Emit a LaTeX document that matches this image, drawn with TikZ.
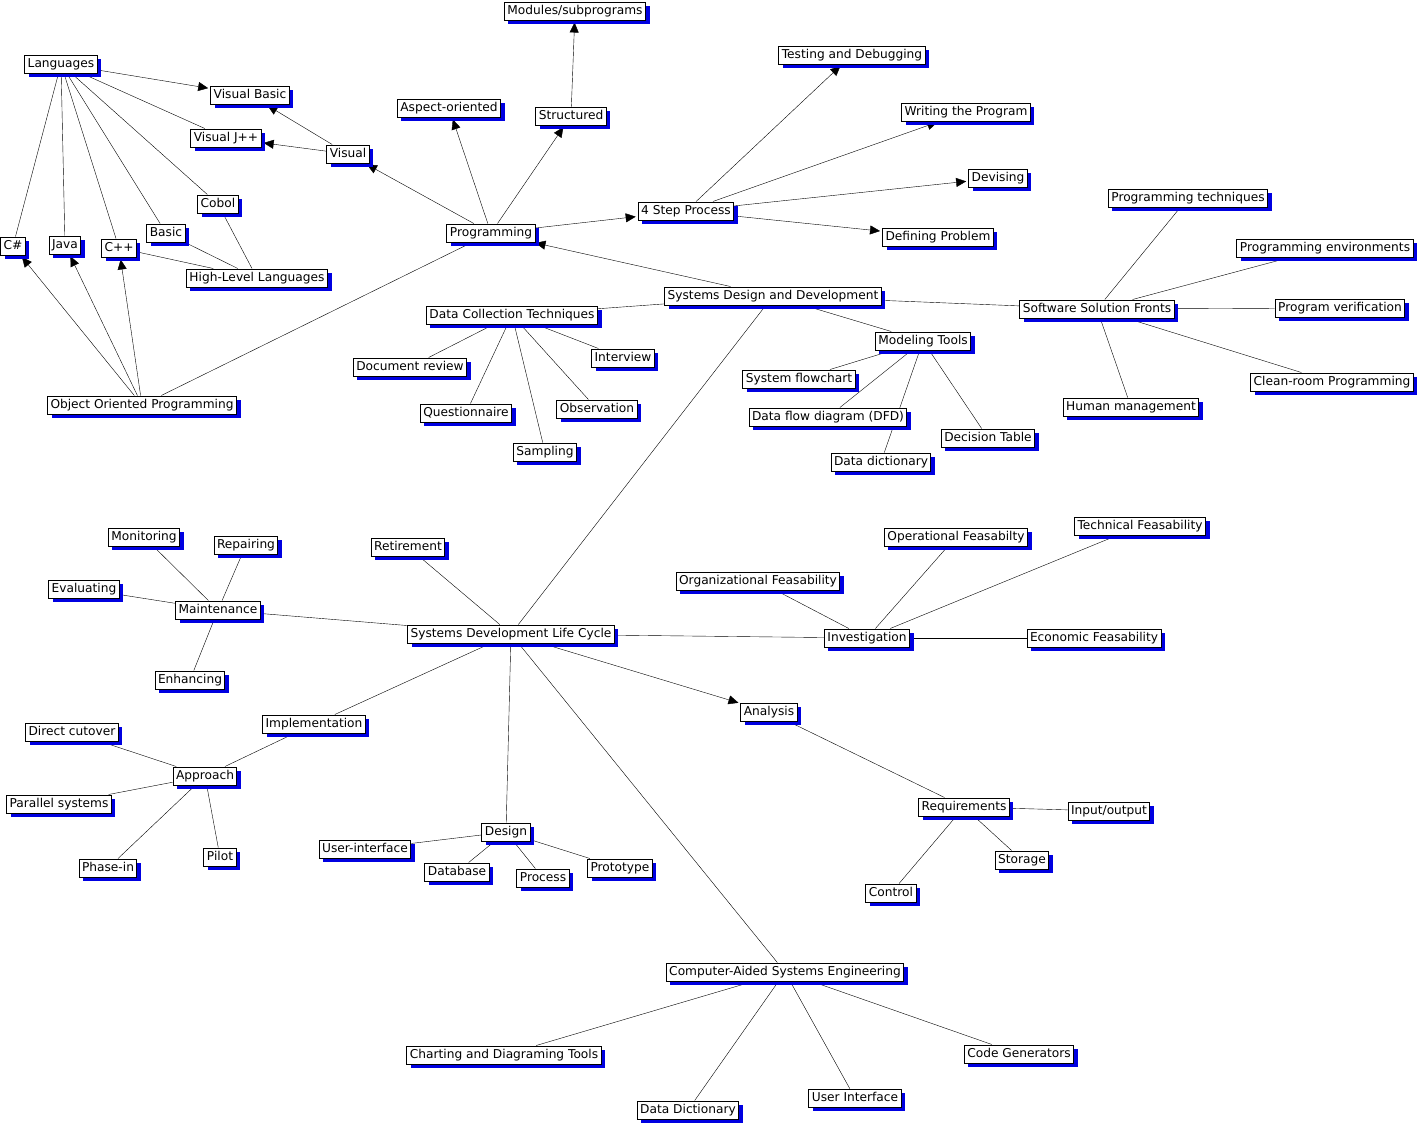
\documentclass[tikz,border=0pt]{standalone}
\usepackage{fontspec}
\setmainfont{DejaVu Sans}
\usetikzlibrary{arrows.meta,shadows}
\definecolor{shadowblue}{RGB}{0,0,225}
\pgfdeclarelayer{background}
\pgfsetlayers{background,main}

\begin{document}
\begin{tikzpicture}[x=1pt,y=-1pt,>={Triangle[length=10pt,width=9pt]},line width=1pt,concept/.style={draw,fill=white,line width=1pt,inner xsep=3pt,inner ysep=1pt,minimum height=18pt,font=\fontsize{12.2}{14}\selectfont,text height=9pt,text depth=2.5pt,drop shadow={fill=shadowblue,opacity=1,shadow xshift=4pt,shadow yshift=-4pt}},link/.style={shorten >=2pt}]
  \useasboundingbox (0,0) rectangle (1420,1125);
  \node[concept] (lang) at (61,64) {Languages};
  \node[concept] (vbasic) at (250,95) {Visual Basic};
  \node[concept] (vjpp) at (226,138) {Visual J++};
  \node[concept] (visual) at (348,154) {Visual};
  \node[concept] (cobol) at (218,204) {Cobol};
  \node[concept] (basic) at (166,233) {Basic};
  \node[concept] (csharp) at (13,246) {C\#};
  \node[concept] (java) at (65,245) {Java};
  \node[concept] (cpp) at (119,248) {C++};
  \node[concept] (highlevel) at (257,278) {High-Level Languages};
  \node[concept] (oop) at (142,405) {Object Oriented Programming};
  \node[concept] (modules) at (575,11) {Modules/subprograms};
  \node[concept] (aspect) at (449,108) {Aspect-oriented};
  \node[concept] (structured) at (571,116) {Structured};
  \node[concept] (prog) at (491,233) {Programming};
  \node[concept] (fourstep) at (686,211) {4 Step Process};
  \node[concept] (testing) at (852,55) {Testing and Debugging};
  \node[concept] (writing) at (966,112) {Writing the Program};
  \node[concept] (devising) at (998,178) {Devising};
  \node[concept] (defining) at (938,237) {Defining Problem};
  \node[concept] (sdd) at (773,296) {Systems Design and Development};
  \node[concept] (datacoll) at (512,315) {Data Collection Techniques};
  \node[concept] (docreview) at (410,367) {Document review};
  \node[concept] (interview) at (623,358) {Interview};
  \node[concept] (questionnaire) at (466,413) {Questionnaire};
  \node[concept] (observation) at (597,409) {Observation};
  \node[concept] (sampling) at (545,452) {Sampling};
  \node[concept] (modeling) at (923,341) {Modeling Tools};
  \node[concept] (sysflow) at (799,379) {System flowchart};
  \node[concept] (dfd) at (828,417) {Data flow diagram (DFD)};
  \node[concept] (dectable) at (988,438) {Decision Table};
  \node[concept] (datadict) at (881,462) {Data dictionary};
  \node[concept] (ssf) at (1097,309) {Software Solution Fronts};
  \node[concept] (progtech) at (1188,198) {Programming techniques};
  \node[concept] (progenv) at (1325,248) {Programming environments};
  \node[concept] (progver) at (1340,308) {Program verification};
  \node[concept] (cleanroom) at (1332,382) {Clean-room Programming};
  \node[concept] (humanman) at (1131,407) {Human management};
  \node[concept] (sdlc) at (511,634) {Systems Development Life Cycle};
  \node[concept] (retirement) at (408,547) {Retirement};
  \node[concept] (maint) at (218,610) {Maintenance};
  \node[concept] (monitoring) at (144,537) {Monitoring};
  \node[concept] (repairing) at (246,545) {Repairing};
  \node[concept] (evaluating) at (84,589) {Evaluating};
  \node[concept] (enhancing) at (190,680) {Enhancing};
  \node[concept] (impl) at (314,724) {Implementation};
  \node[concept] (approach) at (205,776) {Approach};
  \node[concept] (cutover) at (72,732) {Direct cutover};
  \node[concept] (parallel) at (59,804) {Parallel systems};
  \node[concept] (phasein) at (108,868) {Phase-in};
  \node[concept] (pilot) at (220,857) {Pilot};
  \node[concept] (design) at (506,832) {Design};
  \node[concept] (uiface) at (365,849) {User-interface};
  \node[concept] (database) at (457,872) {Database};
  \node[concept] (process) at (543,878) {Process};
  \node[concept] (prototype) at (620,868) {Prototype};
  \node[concept] (invest) at (867,638) {Investigation};
  \node[concept] (orgfeas) at (758,581) {Organizational Feasability};
  \node[concept] (opfeas) at (956,537) {Operational Feasabilty};
  \node[concept] (techfeas) at (1140,526) {Technical Feasability};
  \node[concept] (econfeas) at (1094,638) {Economic Feasability};
  \node[concept] (analysis) at (769,712) {Analysis};
  \node[concept] (req) at (964,807) {Requirements};
  \node[concept] (inout) at (1109,811) {Input/output};
  \node[concept] (storage) at (1022,860) {Storage};
  \node[concept] (control) at (891,893) {Control};
  \node[concept] (case) at (785,972) {Computer-Aided Systems Engineering};
  \node[concept] (charting) at (504,1055) {Charting and Diagraming Tools};
  \node[concept] (datadictb) at (688,1110) {Data Dictionary};
  \node[concept] (userif) at (855,1098) {User Interface};
  \node[concept] (codegen) at (1019,1054) {Code Generators};
  \begin{pgfonlayer}{background}
    \draw[->,link] (lang) -- (vbasic);
    \draw (lang) -- (vjpp);
    \draw (lang) -- (cobol);
    \draw (lang) -- (basic);
    \draw (lang) -- (cpp);
    \draw (lang) -- (java);
    \draw (lang) -- (csharp);
    \draw[->,link] (visual) -- (vbasic);
    \draw[->,link] (visual) -- (vjpp);
    \draw (cobol) -- (highlevel);
    \draw (basic) -- (highlevel);
    \draw (cpp) -- (highlevel);
    \draw[->,link] (oop) -- (csharp);
    \draw[->,link] (oop) -- (java);
    \draw[->,link] (oop) -- (cpp);
    \draw (oop) -- (prog);
    \draw[->,link] (prog) -- (visual);
    \draw[->,link] (prog) -- (aspect);
    \draw[->,link] (prog) -- (structured);
    \draw[->,link] (structured) -- (modules);
    \draw[->,link] (prog) -- (fourstep);
    \draw[->,link] (fourstep) -- (testing);
    \draw[->,link] (fourstep) -- (writing);
    \draw[->,link] (fourstep) -- (devising);
    \draw[->,link] (fourstep) -- (defining);
    \draw[->,link] (sdd) -- (prog);
    \draw (sdd) -- (datacoll);
    \draw (datacoll) -- (docreview);
    \draw (datacoll) -- (questionnaire);
    \draw (datacoll) -- (sampling);
    \draw (datacoll) -- (observation);
    \draw (datacoll) -- (interview);
    \draw (sdd) -- (modeling);
    \draw (modeling) -- (sysflow);
    \draw (modeling) -- (dfd);
    \draw (modeling) -- (datadict);
    \draw (modeling) -- (dectable);
    \draw (sdd) -- (ssf);
    \draw (ssf) -- (progtech);
    \draw (ssf) -- (progenv);
    \draw (ssf) -- (progver);
    \draw (ssf) -- (cleanroom);
    \draw (ssf) -- (humanman);
    \draw (sdd) -- (sdlc);
    \draw (sdlc) -- (retirement);
    \draw (sdlc) -- (maint);
    \draw (maint) -- (monitoring);
    \draw (maint) -- (repairing);
    \draw (maint) -- (evaluating);
    \draw (maint) -- (enhancing);
    \draw (sdlc) -- (impl);
    \draw (impl) -- (approach);
    \draw (approach) -- (cutover);
    \draw (approach) -- (parallel);
    \draw (approach) -- (phasein);
    \draw (approach) -- (pilot);
    \draw (sdlc) -- (design);
    \draw (design) -- (uiface);
    \draw (design) -- (database);
    \draw (design) -- (process);
    \draw (design) -- (prototype);
    \draw (sdlc) -- (invest);
    \draw (invest) -- (orgfeas);
    \draw (invest) -- (opfeas);
    \draw (invest) -- (techfeas);
    \draw (invest) -- (econfeas);
    \draw[->,link] (sdlc) -- (analysis);
    \draw (analysis) -- (req);
    \draw (req) -- (inout);
    \draw (req) -- (storage);
    \draw (req) -- (control);
    \draw (sdlc) -- (case);
    \draw (case) -- (charting);
    \draw (case) -- (datadictb);
    \draw (case) -- (userif);
    \draw (case) -- (codegen);
  \end{pgfonlayer}
\end{tikzpicture}
\end{document}
